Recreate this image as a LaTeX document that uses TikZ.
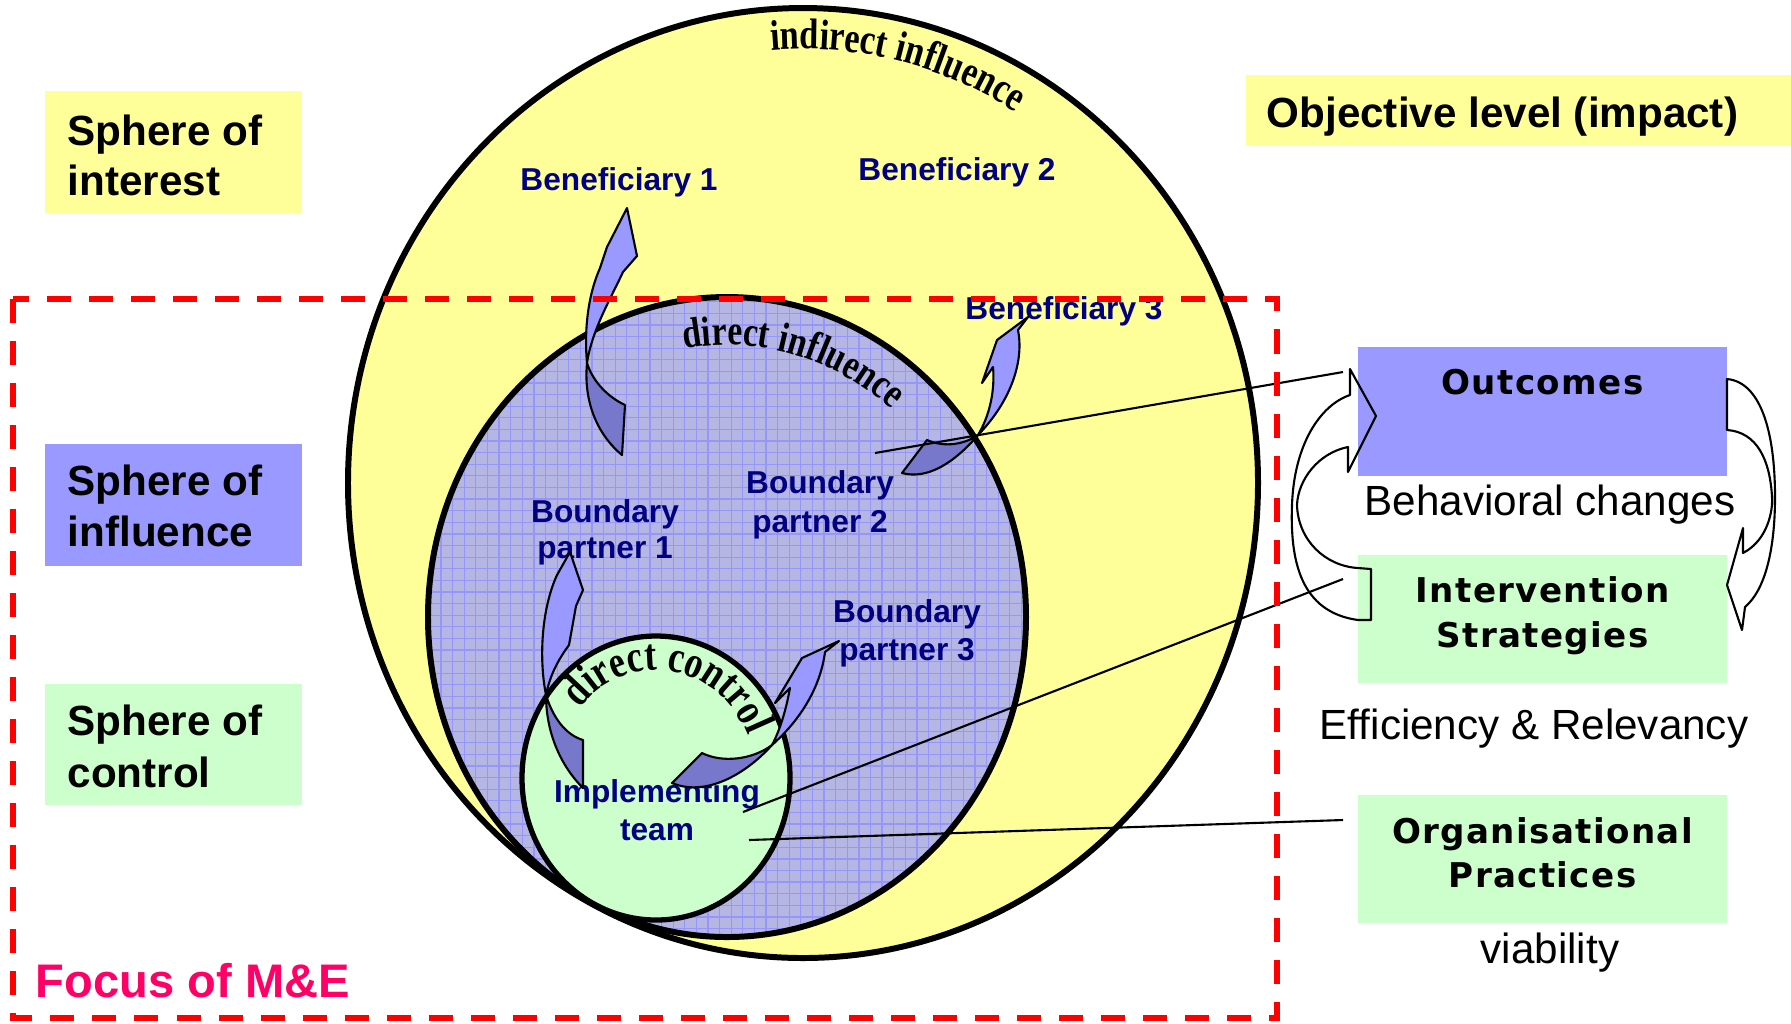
\documentclass[tikz,border=0pt]{standalone}
\usepackage{fontspec}
\setmainfont{Liberation Sans}
\newfontfamily\boxfont[LetterSpace=4]{DejaVu Sans}
\newfontfamily\arcfont[FakeStretch=0.8]{Liberation Serif}
\usetikzlibrary{decorations.text}

\definecolor{ylw}{RGB}{255,255,153}
\definecolor{lav}{RGB}{153,153,255}
\definecolor{mint}{RGB}{204,255,204}
\definecolor{gridbg}{RGB}{182,182,228}
\definecolor{gridln}{RGB}{150,150,250}
\definecolor{navy}{RGB}{0,0,128}
\definecolor{arrdark}{RGB}{119,119,204}
\definecolor{focus}{RGB}{255,0,102}

\begin{document}
\begin{tikzpicture}[x=0.01cm, y=-0.01cm,
  lbl/.style={font=\bfseries\fontsize{12}{14}\selectfont, anchor=base west, inner sep=0pt},
  bluetxt/.style={font=\bfseries\fontsize{9}{11}\selectfont, text=navy, anchor=base, inner sep=0pt},
  plaintxt/.style={font=\fontsize{12}{14}\selectfont, anchor=base, inner sep=0pt},
  boxtxt/.style={font=\boxfont\bfseries\fontsize{9.7}{11}\selectfont, anchor=base, inner sep=0pt},
  panel/.style={rectangle, inner sep=0pt, draw=none},
  rim/.style={draw=black, line width=1.7pt},
  ribbon/.style={fill=lav, draw=black, line width=0.6pt, line join=round},
  ribbonback/.style={fill=arrdark, draw=black, line width=0.6pt, line join=round},
  loop/.style={draw=black, line width=0.6pt, line join=round},
  leader/.style={draw=black, line width=0.6pt},
  arctext/.style={decorate, decoration={text along path, text align=left, text={#1}}}
]
\useasboundingbox (0,0) rectangle (1791,1023);

% ---- spheres ----
\fill[ylw] (803,483) ellipse [x radius=455, y radius=475];
\draw[rim] (803,483) ellipse [x radius=455, y radius=475];

\begin{scope}
  \clip (727,617) ellipse [x radius=299, y radius=320];
  \fill[gridbg] (420,940) rectangle (1030,290);
  \draw[gridln, line width=0.35pt, step=0.116cm] (420,940) grid (1030,290);
\end{scope}
\draw[rim] (727,617) ellipse [x radius=299, y radius=320];

\fill[mint] (656,778) ellipse [x radius=134, y radius=142];
\draw[draw=black, line width=1.5pt] (656,778) ellipse [x radius=134, y radius=142];

% ---- curved titles ----
\path[arctext={|\arcfont\bfseries\fontsize{12.2}{14}\selectfont|indirect influence}]
  (771.3,50.3) arc [start angle=-94.5, end angle=-20, x radius=405, y radius=425];
\path[arctext={|\arcfont\bfseries\fontsize{12}{14}\selectfont|direct influence}]
  (684.2,348.9) arc [start angle=-99.7, end angle=-10, x radius=254, y radius=272];
\path[arctext={|\arcfont\bfseries\fontsize{12.8}{15}\selectfont|direct control}]
  (579.4,708.6) arc [start angle=-140, end angle=10, x radius=100, y radius=108];

% ---- left legend ----
\node[panel, fill=ylw, minimum width=2.57cm, minimum height=1.22cm] (interestbox) at (173.5,152) {};
\node[lbl] (interest1) at (67,145) {Sphere of};
\node[lbl] (interest2) at (67,195) {interest};
\node[panel, fill=lav, minimum width=2.57cm, minimum height=1.22cm] (influencebox) at (173.5,505) {};
\node[lbl] (influence1) at (67,495) {Sphere of};
\node[lbl] (influence2) at (67,546) {influence};
\node[panel, fill=mint, minimum width=2.57cm, minimum height=1.21cm] (controlbox) at (173.5,744.5) {};
\node[lbl] (control1) at (67,735) {Sphere of};
\node[lbl] (control2) at (67,787) {control};

% ---- objective level ----
\node[panel, fill=ylw, minimum width=5.45cm, minimum height=0.70cm] (objbox) at (1518.5,110) {};
\node[lbl] (objtxt) at (1266,127) {Objective level (impact)};

% ---- actors ----
\node[bluetxt] (ben1) at (619,190) {Beneficiary 1};
\node[bluetxt] (ben2) at (957,180) {Beneficiary 2};
\node[bluetxt] (ben3) at (1064,319) {Beneficiary 3};
\node[bluetxt] (bp1a) at (605,522) {Boundary};
\node[bluetxt] (bp1b) at (605,558) {partner 1};
\node[bluetxt] (bp2a) at (820,493) {Boundary};
\node[bluetxt] (bp2b) at (820,532) {partner 2};
\node[bluetxt] (bp3a) at (907,622) {Boundary};
\node[bluetxt] (bp3b) at (907,660) {partner 3};
\node[bluetxt] (team1) at (657,802) {Implementing};
\node[bluetxt] (team2) at (657,840) {team};

% ---- twisted influence arrows ----
% partner 1 -> beneficiary 1
\draw[ribbon] (627,208) -- (637,256) -- (623,272) .. controls (610,300) and (592,330) .. (587,363)
  .. controls (584,330) and (588,295) .. (600,268) -- (607,247) -- cycle;
\draw[ribbonback] (587,363) .. controls (583,405) and (600,437) .. (622,455) -- (625,405)
  .. controls (608,397) and (593,382) .. cycle;
% partner 2 -> beneficiary 3
\draw[ribbon] (1028,317) -- (1018,330) .. controls (1024,360) and (1012,400) .. (978,435)
  .. controls (990,415) and (995,390) .. (993,367) -- (982,383) -- (997,340) -- cycle;
\draw[ribbonback] (978,435) .. controls (955,462) and (928,480) .. (902,473) -- (927,440)
  .. controls (945,448) and (965,444) .. cycle;
% team -> partner 1
\draw[ribbon] (570,552) -- (583,590) -- (576,606) -- (569,645) .. controls (558,660) and (550,675) .. (546,695)
  .. controls (539,660) and (541,610) .. (557,575) -- cycle;
\draw[ribbonback] (546,695) .. controls (546,732) and (560,765) .. (583,788) -- (583,740)
  .. controls (566,735) and (553,718) .. cycle;
% team -> partner 3
\draw[ribbon] (839,641) -- (802,658) -- (775,703) -- (790,688) .. controls (786,710) and (780,730) .. (772,745)
  .. controls (798,722) and (820,690) .. (825,652) -- cycle;
\draw[ribbonback] (772,745) .. controls (745,775) and (705,797) .. (672,783) -- (702,753)
  .. controls (722,763) and (752,760) .. cycle;

% ---- result panels ----
\node[panel, fill=lav, minimum width=3.69cm, minimum height=1.29cm] (outcomes) at (1542.5,411.5) {};
\node[boxtxt] (outcomestxt) at (1542.5,394) {Outcomes};
\node[panel, fill=mint, minimum width=3.69cm, minimum height=1.28cm] (strategies) at (1542.5,619) {};
\node[boxtxt] (strat1) at (1542.5,602) {Intervention};
\node[boxtxt] (strat2) at (1542.5,647) {Strategies};
\node[panel, fill=mint, minimum width=3.69cm, minimum height=1.28cm] (practices) at (1542.5,859) {};
\node[boxtxt] (pract1) at (1542.5,843) {Organisational};
\node[boxtxt] (pract2) at (1542.5,887) {Practices};

\node[plaintxt] (behav) at (1550,515) {Behavioral changes};
\node[plaintxt] (effic) at (1534,739) {Efficiency \& Relevancy};
\node[plaintxt] (viab) at (1550,963) {viability};

% ---- feedback loops ----
\draw[loop] (1371,620) -- (1358,620) .. controls (1300,612) and (1290,560) .. (1292,505)
  .. controls (1294,445) and (1320,405) .. (1350,395) -- (1350,369) -- (1376,416) -- (1348,472) -- (1348,447)
  .. controls (1318,453) and (1298,480) .. (1297,505) .. controls (1298,540) and (1325,566) .. (1358,568)
  -- (1371,569) -- cycle;
\draw[loop] (1727,379) .. controls (1760,382) and (1775,430) .. (1775,497)
  .. controls (1775,550) and (1765,590) .. (1745,607) -- (1742,630) -- (1727,585) -- (1743,528) -- (1743,553)
  .. controls (1768,540) and (1773,510) .. (1772,497) .. controls (1770,460) and (1757,432) .. (1727,430) -- cycle;

% ---- leaders ----
\coordinate (l1a) at (875,453);  \coordinate (l1b) at (1343,372);
\coordinate (l2a) at (743,812);  \coordinate (l2b) at (1343,579);
\coordinate (l3a) at (749,840);  \coordinate (l3b) at (1343,820);
\draw[leader] (l1a) -- (l1b);
\draw[leader] (l2a) -- (l2b);
\draw[leader] (l3a) -- (l3b);

% ---- M&E focus frame ----
\draw[red, line width=1.7pt, dash pattern=on 0.24cm off 0.18cm] (13,299) rectangle (1277,1018);
\node[lbl, text=focus, font=\bfseries\fontsize{13.4}{15}\selectfont] (focus) at (35,997) {Focus of M\&E};

\end{tikzpicture}
\end{document}
